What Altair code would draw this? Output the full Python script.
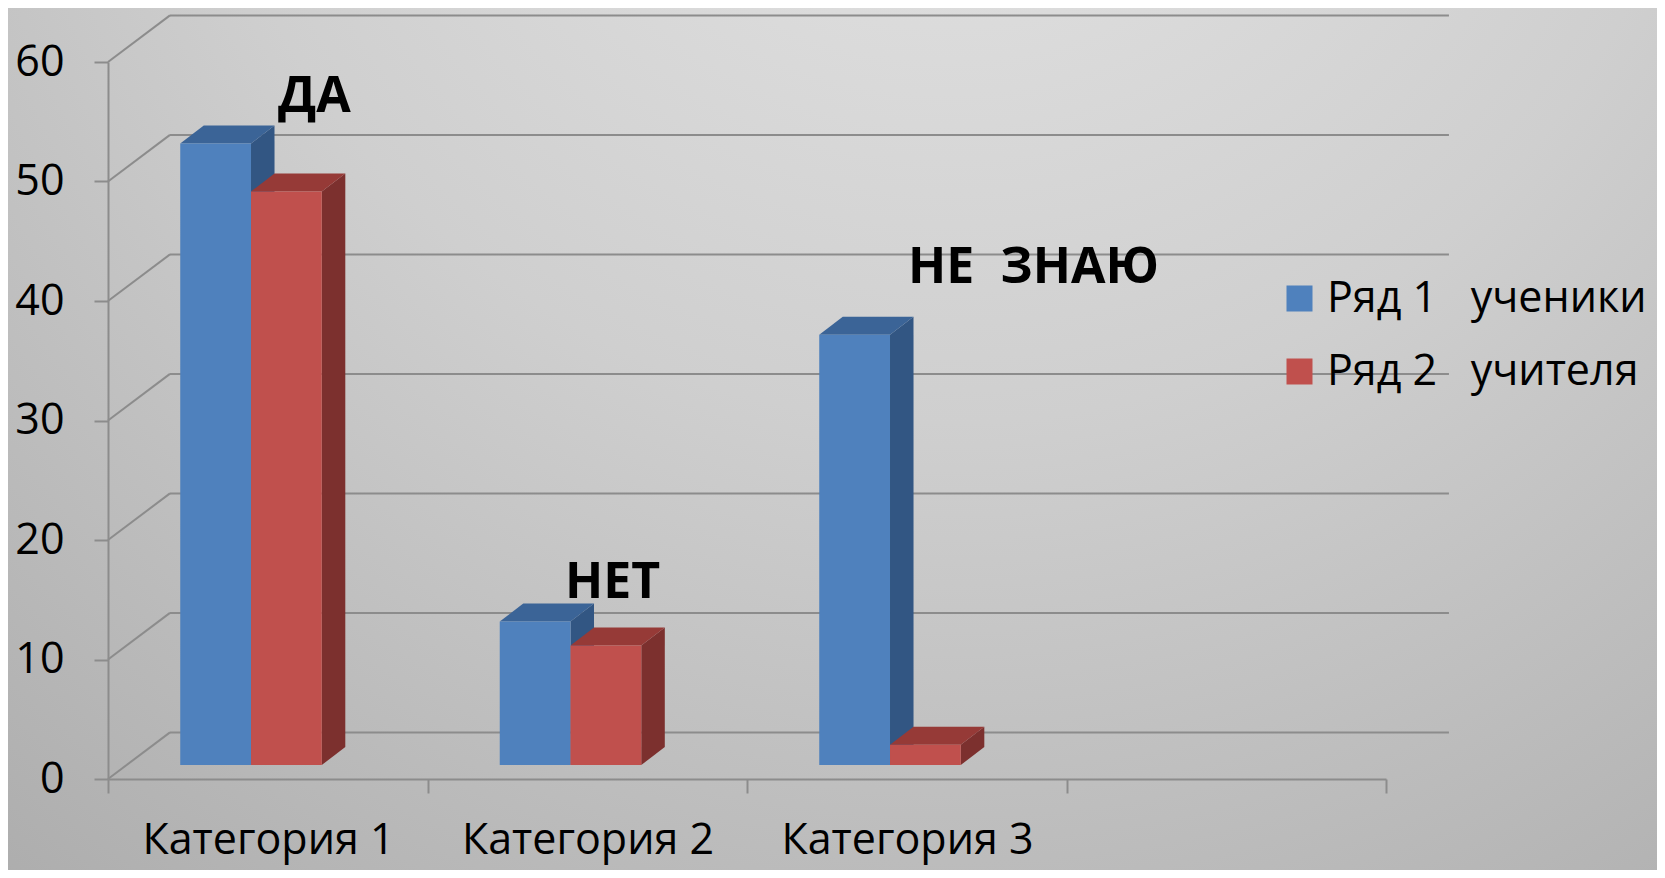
import altair as alt
import pandas as pd

# ---------------- data ----------------
categories = ["Категория 1", "Категория 2", "Категория 3"]
series_names = ["Ряд 1", "Ряд 2"]
series_desc = ["ученики", "учителя"]
row1 = [52, 12, 36]
row2 = [48, 10, 1.7]
y_ticks = [0, 10, 20, 30, 40, 50, 60]
x_ticks = [0, 1, 2, 3, 4]          # category slot boundaries (4 slots)
annotations = ["ДА", "НЕТ", "НЕ\u00a0\u00a0ЗНАЮ"]
ann_x = [0.532, 1.430, 2.504]      # anchor, in category-slot units
ann_y = [55.8, 15.15, 41.5]        # anchor, in value units

# ---------------- style / projection constants ----------------
FONT = "Open Sans"
BLUE, BLUE_TOP, BLUE_SIDE = "#4F81BD", "#3B6497", "#325683"
RED, RED_TOP, RED_SIDE = "#C0504D", "#963A37", "#7C302E"
GRID = "#8c8c8c"

W, H = 1278, 717                    # plot area
PAD = {"left": 100, "top": 54, "right": 271, "bottom": 91}

WALL_DX, WALL_DY = 0.194, 3.9       # depth of the back wall (x units, value units)
WALL_END = 4.197
BAR_BASE = 1.17                     # bar floor lift from depth
BAR_W = 0.2215
PAIR_C = 0.4476
D_DX, D_DY = 0.0736, 1.506          # bar depth

# ---------------- derived tables ----------------
fronts, sides, tops = [], [], []
for ci, cat in enumerate(categories):
    for si, (name, vals) in enumerate(zip(series_names, [row1, row2])):
        v = vals[ci]
        x0 = ci + PAIR_C - BAR_W + si * BAR_W
        x1 = x0 + BAR_W
        yb, yt = BAR_BASE, BAR_BASE + v
        bid = f"{ci}-{si}"
        fronts.append(dict(series=name, cat=cat, x0=x0, x1=x1, y0=yb, y1=yt))
        sides.append(dict(bid=bid, s=si, x=x1, ya=yb, yb=yt))
        sides.append(dict(bid=bid, s=si, x=x1 + D_DX, ya=yb + D_DY, yb=yt + D_DY))
        for xx, ya, yb2 in [(x0, yt, yt), (x0 + D_DX, yt, yt + D_DY),
                            (x1, yt, yt + D_DY), (x1 + D_DX, yt + D_DY, yt + D_DY)]:
            tops.append(dict(bid=bid, s=si, x=xx, ya=ya, yb=yb2))

fronts = pd.DataFrame(fronts)
sides = pd.DataFrame(sides)
tops = pd.DataFrame(tops)
walls = pd.DataFrame({"k": y_ticks})
walls["xs"] = WALL_DX
walls["xe"] = WALL_END
walls["x0"] = 0.0
walls["kb"] = walls["k"] + WALL_DY
ann = pd.DataFrame({"t": annotations, "x": ann_x, "y": ann_y})

xs = alt.Scale(domain=[0, 4], nice=False, zero=False)
ys = alt.Scale(domain=[0, 60], nice=False)

label_expr = "[" + ",".join(f"'{c}'" for c in categories) + "][datum.value] || ''"
legend_expr = " : ".join(
    f"datum.label == '{n}' ? '{n}\u00a0\u00a0\u00a0{d}'" for n, d in zip(series_names, series_desc)
) + " : datum.label"

X_AXIS = alt.Axis(values=x_ticks, title=None, grid=False, labelExpr=label_expr,
                  labelOffset=160, labelPadding=60, labelBaseline="alphabetic",
                  labelFont=FONT, labelFontSize=43, labelColor="black", labelLimit=0,
                  labelFlush=False, labelOverlap=False, labelBound=False,
                  tickSize=14, tickWidth=2, tickColor=GRID,
                  domainColor=GRID, domainWidth=2, zindex=1)
Y_AXIS = alt.Axis(values=y_ticks, title=None, grid=False,
                  labelFont=FONT, labelFontSize=43, labelColor="black",
                  labelPadding=30, tickSize=14, tickWidth=2, tickColor=GRID,
                  domainColor=GRID, domainWidth=2, zindex=1)


def X(f):
    return alt.X(f, scale=xs, axis=X_AXIS)


def Y(f):
    return alt.Y(f, scale=ys, axis=Y_AXIS)


# ---------------- layers ----------------
bg = alt.Chart(pd.DataFrame({"b": [0]})).mark_rect(
    color=alt.RadialGradient(
        gradient="radial",
        stops=[alt.GradientStop(color="#e6e6e6", offset=0),
               alt.GradientStop(color="#cfcfcf", offset=0.4),
               alt.GradientStop(color="#aaaaaa", offset=0.85),
               alt.GradientStop(color="#959595", offset=1)],
        x1=0.57, y1=0.03, r1=0, x2=0.57, y2=0.03, r2=1.15)
).encode(
    x=alt.value(-PAD["left"]), x2=alt.value(W + PAD["right"]),
    y=alt.value(-PAD["top"]), y2=alt.value(H + PAD["bottom"]))

back_grid = alt.Chart(walls).mark_rule(color=GRID, strokeWidth=2).encode(
    x=X("xs:Q"), x2="xe:Q", y=Y("kb:Q"))

side_grid = alt.Chart(walls).mark_rule(color=GRID, strokeWidth=2).encode(
    x=X("x0:Q"), x2="xs:Q", y=Y("k:Q"), y2="kb:Q")


def faces(df, si, col):
    return alt.Chart(df).transform_filter(f"datum.s == {si}").mark_area(
        color=col, opacity=1, interpolate="linear").encode(
        x=X("x:Q"), y=Y("ya:Q"), y2="yb:Q", detail="bid:N")


front = alt.Chart(fronts).mark_rect().encode(
    x=X("x0:Q"), x2="x1:Q", y=Y("y0:Q"), y2="y1:Q",
    color=alt.Color("series:N",
                    scale=alt.Scale(domain=series_names, range=[BLUE, RED]),
                    legend=alt.Legend(orient="none", legendX=1170, legendY=215, title=None,
                                      padding=0, symbolType="square", symbolSize=676,
                                      symbolStrokeWidth=0, labelFont=FONT, labelFontSize=43,
                                      labelColor="black", labelLimit=0, labelOffset=6,
                                      rowPadding=29, labelExpr=legend_expr, zindex=2)),
)

labels = alt.Chart(ann).mark_text(
    align="left", baseline="alphabetic", font=FONT, fontSize=50,
    fontWeight="bold", color="black").encode(
    x=X("x:Q"), y=Y("y:Q"), text="t:N")

chart = alt.layer(
    bg, back_grid, side_grid,
    faces(sides, 0, BLUE_SIDE), faces(sides, 1, RED_SIDE),
    faces(tops, 0, BLUE_TOP), faces(tops, 1, RED_TOP),
    front, labels,
).properties(
    width=W, height=H, padding=PAD,
    autosize=alt.AutoSizeParams(type="none"),
    background="#a8a8a8",
).configure_view(stroke=None)

chart.save("out.html", embed_options={"renderer": "svg", "actions": False})
